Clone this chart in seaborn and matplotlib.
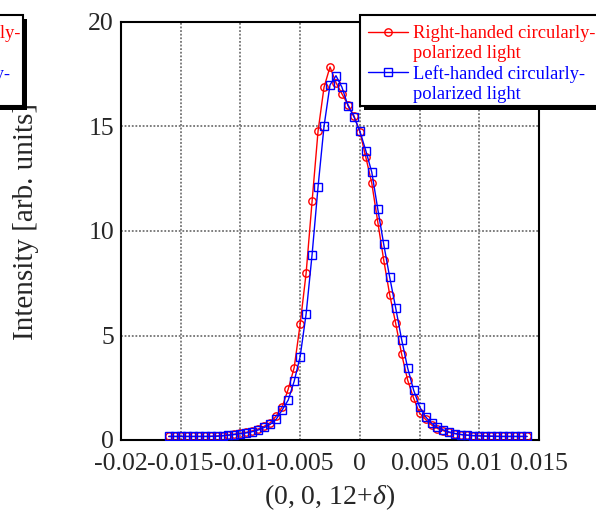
import matplotlib
matplotlib.use("Agg")
import matplotlib.pyplot as plt
import seaborn as sns
import pandas as pd
from matplotlib.lines import Line2D
from matplotlib.patches import Rectangle

# Scan positions along (0, 0, 12+delta)
delta = [
    -0.0160, -0.0155, -0.0150, -0.0145, -0.0140, -0.0135, -0.0130, -0.0125,
    -0.0120, -0.0115, -0.0110, -0.0105, -0.0100, -0.0095, -0.0090, -0.0085,
    -0.0080, -0.0075, -0.0070, -0.0065, -0.0060, -0.0055, -0.0050, -0.0045,
    -0.0040, -0.0035, -0.0030, -0.0025, -0.0020, -0.0015, -0.0010, -0.0005,
    0.0000, 0.0005, 0.0010, 0.0015, 0.0020, 0.0025, 0.0030, 0.0035,
    0.0040, 0.0045, 0.0050, 0.0055, 0.0060, 0.0065, 0.0070, 0.0075,
    0.0080, 0.0085, 0.0090, 0.0095, 0.0100, 0.0105, 0.0110, 0.0115,
    0.0120, 0.0125, 0.0130, 0.0135, 0.0140,
]

# Intensity, right-handed circular polarisation
right_circ = [
    0.17, 0.17, 0.17, 0.17, 0.17, 0.17, 0.17, 0.18,
    0.19, 0.21, 0.24, 0.28, 0.32, 0.37, 0.44, 0.53,
    0.66, 0.83, 1.15, 1.59, 2.43, 3.46, 5.54, 7.98,
    11.42, 14.78, 16.88, 17.85, 17.10, 16.56, 16.05, 15.52,
    14.75, 13.53, 12.28, 10.43, 8.60, 6.95, 5.58, 4.10,
    2.87, 2.00, 1.28, 0.99, 0.72, 0.55, 0.44, 0.36,
    0.30, 0.26, 0.23, 0.21, 0.20, 0.19, 0.18, 0.18,
    0.17, 0.17, 0.17, 0.17, 0.17,
]

# Intensity, left-handed circular polarisation
left_circ = [
    0.17, 0.17, 0.17, 0.17, 0.17, 0.17, 0.17, 0.17,
    0.18, 0.20, 0.23, 0.26, 0.30, 0.34, 0.40, 0.48,
    0.60, 0.75, 1.00, 1.44, 1.91, 2.81, 3.99, 6.03,
    8.87, 12.12, 15.01, 16.99, 17.43, 16.88, 16.00, 15.47,
    14.78, 13.84, 12.81, 11.05, 9.36, 7.78, 6.32, 4.80,
    3.45, 2.39, 1.59, 1.11, 0.80, 0.60, 0.48, 0.38,
    0.31, 0.26, 0.23, 0.21, 0.20, 0.18, 0.18, 0.17,
    0.17, 0.17, 0.17, 0.17, 0.17,
]

x_ticks = [-0.02, -0.015, -0.01, -0.005, 0.0, 0.005, 0.01, 0.015]
x_tick_labels = ["-0.02", "-0.015", "-0.01", "-0.005", "0", "0.005", "0.01", "0.015"]
y_ticks = [0, 5, 10, 15, 20]
y_tick_labels = ["0", "5", "10", "15", "20"]

legend_labels = ["Right-handed circularly-", "polarized light",
                 "Left-handed circularly-", "polarized light"]

sns.set_theme(style="white")
plt.rcParams["font.family"] = ["Liberation Serif", "DejaVu Serif"]
plt.rcParams["mathtext.fontset"] = "custom"
plt.rcParams["mathtext.rm"] = "Liberation Serif"
plt.rcParams["mathtext.it"] = "Liberation Serif:italic"

W, H = 596, 513
fig = plt.figure(figsize=(W / 100, H / 100), dpi=100)
fig.patch.set_facecolor("white")
ax = fig.add_axes([121 / W, 1 - 440 / H, (539 - 121) / W, (440 - 22) / H])
ax.set_facecolor("white")

df = pd.DataFrame({"delta": delta, "right": right_circ, "left": left_circ})

MS = 5.3
sns.lineplot(data=df, x="delta", y="right", ax=ax, color="red", linewidth=1,
             marker="o", markersize=MS, markerfacecolor="none",
             markeredgecolor="red", markeredgewidth=1, zorder=3)
sns.lineplot(data=df, x="delta", y="left", ax=ax, color="blue", linewidth=1,
             marker="s", markersize=MS, markerfacecolor="none",
             markeredgecolor="blue", markeredgewidth=1, zorder=4)

ax.set_xlim(-0.02, 0.015)
ax.set_ylim(0, 20)
ax.set_xticks(x_ticks)
ax.set_xticklabels(x_tick_labels)
ax.set_yticks(y_ticks)
ax.set_yticklabels(y_tick_labels)
ax.tick_params(axis="both", which="major", direction="in", length=5, width=1,
               color="black", labelsize=18.5, top=False, right=False)
ax.tick_params(axis="x", pad=9)
ax.tick_params(axis="y", pad=5)

ax.grid(True, which="major", color="0.45", linestyle=(0, (1, 1)), linewidth=1.3)
ax.set_axisbelow(True)
for side in ["left", "right", "top", "bottom"]:
    ax.spines[side].set_visible(True)
    ax.spines[side].set_color("black")
    ax.spines[side].set_linewidth(1.5)

ax.set_xlabel("(0, 0, 12+$\\delta$)", fontsize=20)
ax.set_ylabel("Intensity [arb. units]", fontsize=21)
ax.xaxis.set_label_coords(0.5, -0.102)
ax.yaxis.set_label_coords(-0.197, 0.522)


def px_rect(x0, y0, x1, y1, **kw):
    """Rectangle given in figure pixels measured from the top-left corner."""
    return Rectangle((x0 / W, 1 - y1 / H), (x1 - x0) / W, (y1 - y0) / H,
                     transform=fig.transFigure, figure=fig, **kw)


def legend_handles():
    return [
        Line2D([], [], color="red", linewidth=1, marker="o", markersize=MS,
               markerfacecolor="none", markeredgecolor="red"),
        Line2D([], [], color="none"),
        Line2D([], [], color="blue", linewidth=1, marker="s", markersize=MS,
               markerfacecolor="none", markeredgecolor="blue"),
        Line2D([], [], color="none"),
    ]


def add_legend(left_px):
    # framed box with a solid drop shadow
    fig.patches.append(px_rect(left_px + 4, 19, left_px + 242, 110,
                               facecolor="black", edgecolor="none", zorder=5))
    fig.patches.append(px_rect(left_px, 15, left_px + 238, 106,
                               facecolor="white", edgecolor="black",
                               linewidth=1.5, zorder=6))
    leg = fig.legend(legend_handles(), legend_labels, loc="upper left",
                     bbox_to_anchor=((left_px + 8) / W, 1 - 25 / H),
                     frameon=False,
                     labelcolor=["red", "red", "blue", "blue"],
                     fontsize=13.3, handlelength=2.15, handletextpad=0.27,
                     labelspacing=0.16, borderpad=0, borderaxespad=0,
                     numpoints=1)
    leg.set_zorder(7)
    return leg


add_legend(360)
add_legend(360 - 575)

fig.savefig("out.png", dpi=100)
